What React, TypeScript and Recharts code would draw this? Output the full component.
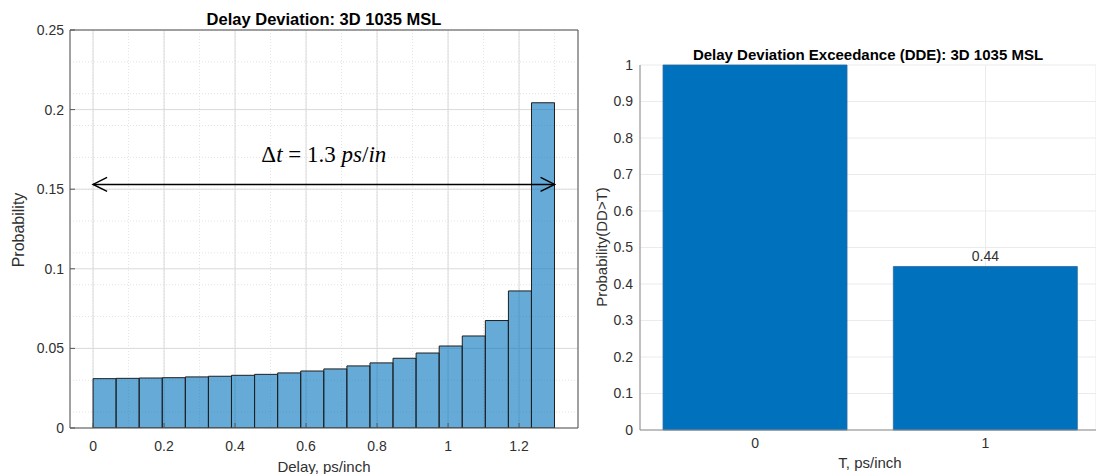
import React from 'react';
import { ComposedChart, BarChart, Bar, XAxis, YAxis, CartesianGrid, ReferenceLine, LabelList } from 'recharts';

// histogram: Delay Deviation, 20 bins of 0.065 ps/inch
const binCenters = [
    0.0325, 0.0975, 0.1625, 0.2275, 0.2925, 0.3575, 0.4225, 0.4875, 0.5525, 0.6175,
    0.6825, 0.7475, 0.8125, 0.8775, 0.9425, 1.0075, 1.0725, 1.1375, 1.2025, 1.2675,
];
const binProbability = [
    0.0310, 0.0312, 0.0314, 0.0316, 0.0321, 0.0325, 0.0331, 0.0337, 0.0346, 0.0358,
    0.0371, 0.0390, 0.0409, 0.0438, 0.0471, 0.0515, 0.0578, 0.0675, 0.0861, 0.2043,
];
const delayTicks = [0, 0.2, 0.4, 0.6, 0.8, 1, 1.2];
const probTicks = [0, 0.05, 0.1, 0.15, 0.2, 0.25];
const spreadStart = 0;
const spreadEnd = 1.3;
const spreadLevel = 0.153;

// exceedance bar chart
const thresholds = [0, 1];
const exceedance = [1.0, 0.448];
const exceedanceLabels = ['', '0.44'];
const thresholdTicks = [0, 1];
const exceedTicks = [0, 0.1, 0.2, 0.3, 0.4, 0.5, 0.6, 0.7, 0.8, 0.9, 1];

const histData = binCenters.map((x, i) => ({ x, p: binProbability[i] }));
const ddeData = thresholds.map((t, i) => ({ t, p: exceedance[i], label: exceedanceLabels[i] }));

// minor grid (matlab style)
const minorX = Array.from({ length: 28 }, (_, i) => +(i * 0.05 - 0.05).toFixed(2));
const minorY = Array.from({ length: 26 }, (_, i) => +(i * 0.01).toFixed(2));

const AXIS = '#555555';
const TXT = '#303030';

const DoubleArrow = (props: any) => {
    const { x1, y1, x2, y2 } = props;
    const h = 14;
    const w = 7;
    return (
        <g>
            <line x1={x1} y1={y1} x2={x2} y2={y2} stroke="#000" strokeWidth={1.5} />
            <polyline points={`${x1 + h},${y1 - w} ${x1},${y1} ${x1 + h},${y1 + w}`} fill="none" stroke="#000" strokeWidth={1.5} />
            <polyline points={`${x2 - h},${y2 - w} ${x2},${y2} ${x2 - h},${y2 + w}`} fill="none" stroke="#000" strokeWidth={1.5} />
        </g>
    );
};

const DeltaLabel = (props: any) => {
    const vb = props.viewBox || {};
    const cx = vb.x + (vb.width || 0) / 2;
    return (
        <text x={cx} y={vb.y - 22} textAnchor="middle" fontFamily="'Liberation Serif', 'Times New Roman', serif" fontSize={23} fill="#000">
            <tspan>Δ</tspan>
            <tspan fontStyle="italic">t</tspan>
            <tspan> = 1.3 </tspan>
            <tspan fontStyle="italic">ps</tspan>
            <tspan>/</tspan>
            <tspan fontStyle="italic">in</tspan>
        </text>
    );
};

// axes get 1px so recharts still draws them; margins make the plot box 70..578 x 30..428
const DelayHistogram = () => (
    <ComposedChart
        width={600}
        height={474}
        data={histData}
        margin={{ top: 29, right: 21, left: 69, bottom: 45 }}
        barCategoryGap={0}
        barGap={0}
    >
        <CartesianGrid stroke="#e3e3e3" strokeDasharray="1 2" horizontalValues={minorY} verticalValues={minorX} />
        <CartesianGrid stroke="#dadada" />
        <XAxis
            dataKey="x"
            type="number"
            domain={[-0.065, 1.366]}
            ticks={delayTicks}
            allowDataOverflow
            height={1}
            tickSize={-5}
            tickMargin={18}
            stroke={AXIS}
            tick={{ fill: TXT, fontSize: 14 }}
        />
        <XAxis xAxisId="top" orientation="top" type="number" domain={[-0.065, 1.366]} ticks={delayTicks} allowDataOverflow height={1} tickSize={-5} tick={false} stroke={AXIS} />
        <YAxis
            type="number"
            domain={[0, 0.25]}
            ticks={probTicks}
            allowDataOverflow
            width={1}
            tickSize={-5}
            tickMargin={11}
            stroke={AXIS}
            tick={{ fill: TXT, fontSize: 14 }}
        />
        <YAxis yAxisId="right" orientation="right" type="number" domain={[0, 0.25]} ticks={probTicks} width={1} tickSize={-5} tick={false} stroke={AXIS} />
        <Bar dataKey="p" fill="#0072BD" fillOpacity={0.6} stroke="#1e1e1e" strokeWidth={1} isAnimationActive={false} />
        <ReferenceLine
            segment={[{ x: spreadStart, y: spreadLevel }, { x: spreadEnd, y: spreadLevel }]}
            shape={DoubleArrow}
            label={<DeltaLabel />}
            ifOverflow="visible"
        />
    </ComposedChart>
);

const ExceedanceChart = () => (
    <BarChart width={516} height={474} data={ddeData} margin={{ top: 65, right: 0, left: 59, bottom: 43 }}>
        <CartesianGrid stroke="#ebebeb" />
        <XAxis
            dataKey="t"
            type="number"
            domain={[-0.5, 1.48]}
            ticks={thresholdTicks}
            allowDataOverflow
            height={1}
            tickLine={false}
            tickSize={0}
            tickMargin={8}
            stroke="#8a8a8a"
            tick={{ fill: TXT, fontSize: 14 }}
        />
        <YAxis
            type="number"
            domain={[0, 1]}
            ticks={exceedTicks}
            width={1}
            tickLine={false}
            tickSize={0}
            tickMargin={7}
            stroke="#8a8a8a"
            tick={{ fill: TXT, fontSize: 14 }}
        />
        <Bar dataKey="p" fill="#0072BD" stroke="#2c6aa0" strokeWidth={0.8} isAnimationActive={false}>
            <LabelList dataKey="label" position="top" offset={5} fill={TXT} fontSize={14} />
        </Bar>
    </BarChart>
);

export default function App() {
    return (
        <div
            style={{
                position: 'fixed',
                left: 0,
                top: 0,
                width: 1096,
                height: 474,
                overflow: 'hidden',
                background: '#fff',
                fontFamily: "'Liberation Sans', Arial, sans-serif",
            }}
        >
            <div style={{ position: 'absolute', left: 0, top: 0 }}>
                <DelayHistogram />
            </div>
            <div style={{ position: 'absolute', left: 580, top: 0 }}>
                <ExceedanceChart />
            </div>
            <svg width={1096} height={474} style={{ position: 'absolute', left: 0, top: 0, pointerEvents: 'none' }}>
                <text x={324} y={25} textAnchor="middle" fontWeight="bold" fontSize={16.5} fill="#000">
                    Delay Deviation: 3D 1035 MSL
                </text>
                <text x={324} y={472} textAnchor="middle" fontSize={15} fill={TXT}>
                    Delay, ps/inch
                </text>
                <text transform="translate(24,230) rotate(-90)" textAnchor="middle" fontSize={16} fill={TXT}>
                    Probability
                </text>
                <text x={868} y={60} textAnchor="middle" fontWeight="bold" fontSize={15} fill="#000">
                    Delay Deviation Exceedance (DDE): 3D 1035 MSL
                </text>
                <text x={870} y={468} textAnchor="middle" fontSize={15} fill={TXT}>
                    T, ps/inch
                </text>
                <text transform="translate(607,247) rotate(-90)" textAnchor="middle" fontSize={15} fill={TXT}>
                    Probability(DD&gt;T)
                </text>
            </svg>
        </div>
    );
}
